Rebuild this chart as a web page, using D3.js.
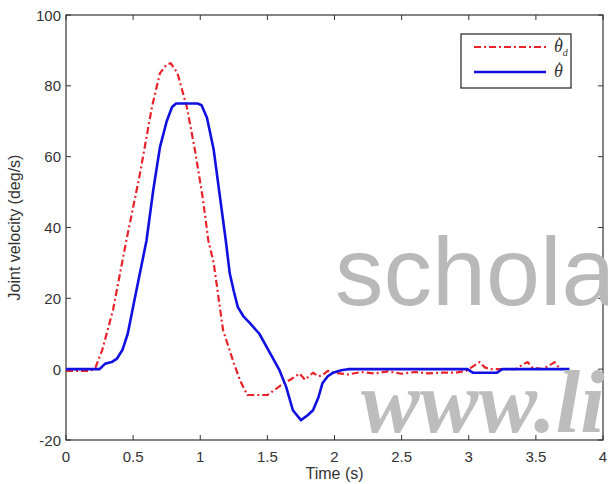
<!DOCTYPE html>
<html>
<head>
<meta charset="utf-8">
<script src="https://cdn.jsdelivr.net/npm/d3@7"></script>
<style>
  html, body { margin: 0; padding: 0; background: #fff; }
  svg { display: block; }
  text { fill: #333; }
</style>
</head>
<body>
<svg id="chart" width="608" height="484"></svg>
<script>
// ---- data ----
const xTicks = [0, 0.5, 1, 1.5, 2, 2.5, 3, 3.5, 4];
const xTickLabels = ["0", "0.5", "1", "1.5", "2", "2.5", "3", "3.5", "4"];
const yTicks = [-20, 0, 20, 40, 60, 80, 100];
const yTickLabels = ["-20", "0", "20", "40", "60", "80", "100"];

// desired joint velocity (red dash-dot)
const desiredTime = [0, 0.18, 0.22, 0.27, 0.35, 0.45, 0.55, 0.64, 0.70, 0.75, 0.78, 0.83, 0.90, 0.96, 1.02, 1.06, 1.10, 1.17, 1.25, 1.30, 1.35, 1.50, 1.57, 1.62, 1.67, 1.71, 1.74, 1.78, 1.84, 1.88, 1.91, 1.95, 2.0, 2.1, 2.2, 2.3, 2.4, 2.5, 2.6, 2.7, 2.8, 2.9, 2.98, 3.04, 3.08, 3.12, 3.16, 3.25, 3.35, 3.41, 3.44, 3.47, 3.55, 3.62, 3.64, 3.67];
const desiredVel = [-0.5, -0.5, 0.5, 5.4, 16.7, 36.4, 55, 74, 83.6, 86, 86.4, 83.6, 74, 62, 48, 36.4, 30, 11, 1.7, -3.5, -7.3, -7.3, -5.4, -4, -3, -2, -1.2, -3, -1, -2, -1.7, -0.5, -1, -1.5, -0.8, -1.2, -0.6, -1.3, -0.8, -1.2, -1, -1, -0.5, 1, 2, 0.5, 0, 0, 0, 1.5, 2, 0.5, 0, 1.5, 2, 0.5];

// actual joint velocity (blue solid)
const actualTime = [0, 0.25, 0.29, 0.34, 0.38, 0.42, 0.46, 0.51, 0.55, 0.60, 0.65, 0.70, 0.75, 0.79, 0.82, 0.98, 1.01, 1.05, 1.10, 1.14, 1.19, 1.22, 1.25, 1.28, 1.32, 1.37, 1.44, 1.52, 1.59, 1.64, 1.69, 1.75, 1.80, 1.84, 1.88, 1.91, 1.95, 1.99, 2.05, 2.1, 2.99, 3.03, 3.21, 3.25, 3.75];
const actualVel = [0, 0, 1.5, 2, 3, 5.4, 10, 19.5, 27, 36.4, 50.6, 62.7, 70, 74, 75, 75, 74.5, 71, 62, 50.6, 36.4, 27, 22, 17.5, 15, 13, 10, 4.5, -0.3, -5, -11.6, -14.4, -13, -11.6, -8, -4, -2, -1, -0.3, 0, 0, -1, -1, 0, 0];

const xLabel = "Time (s)";
const yLabel = "Joint velocity (deg/s)";

// ---- drawing ----
const SANS = '"Liberation Sans", Arial, sans-serif';
const SERIF = '"Liberation Serif", "Times New Roman", serif';
const svg = d3.select("#chart");
const pL = 66, pR = 603, pT = 15, pB = 440;
const x = d3.scaleLinear().domain([0, 4]).range([pL, pR]);
const y = d3.scaleLinear().domain([-20, 100]).range([pB, pT]);
const axisColor = "#333";

// frame
svg.append("rect").attr("x", pL).attr("y", pT)
  .attr("width", pR - pL).attr("height", pB - pT)
  .attr("fill", "none").attr("stroke", axisColor).attr("stroke-width", 1.2);

// ticks (inward, all four sides)
const tl = 5;
xTicks.forEach(t => {
  svg.append("line").attr("x1", x(t)).attr("x2", x(t)).attr("y1", pB).attr("y2", pB - tl).attr("stroke", axisColor);
  svg.append("line").attr("x1", x(t)).attr("x2", x(t)).attr("y1", pT).attr("y2", pT + tl).attr("stroke", axisColor);
});
yTicks.forEach(v => {
  svg.append("line").attr("x1", pL).attr("x2", pL + tl).attr("y1", y(v)).attr("y2", y(v)).attr("stroke", axisColor);
  svg.append("line").attr("x1", pR).attr("x2", pR - tl).attr("y1", y(v)).attr("y2", y(v)).attr("stroke", axisColor);
});

// tick labels
svg.selectAll(".xtl").data(xTicks).enter().append("text")
  .attr("x", d => x(d)).attr("y", 462).attr("text-anchor", "middle")
  .style("font-family", SANS).style("font-size", "15px").text((d, i) => xTickLabels[i]);
svg.selectAll(".ytl").data(yTicks).enter().append("text")
  .attr("x", 61).attr("y", d => y(d) + 5.5).attr("text-anchor", "end")
  .style("font-family", SANS).style("font-size", "15px").text((d, i) => yTickLabels[i]);

// axis labels
svg.append("text").attr("x", (pL + pR) / 2).attr("y", 479).attr("text-anchor", "middle")
  .style("font-family", SANS).style("font-size", "16px").text(xLabel);
svg.append("text").attr("transform", `translate(20,${(pT + pB) / 2}) rotate(-90)`)
  .attr("text-anchor", "middle").style("font-family", SANS).style("font-size", "16px").text(yLabel);

// curves
const line = d3.line().x(d => x(d[0])).y(d => y(d[1]));
const desired = desiredTime.map((t, i) => [t, desiredVel[i]]);
const actual = actualTime.map((t, i) => [t, actualVel[i]]);

const redColor = "#e8222a", blueColor = "#1010e0";
svg.append("path").datum(desired).attr("d", line)
  .attr("fill", "none").attr("stroke", redColor).attr("stroke-width", 2.2)
  .attr("stroke-dasharray", "7,3,2,3").attr("stroke-linejoin", "round");
svg.append("path").datum(actual).attr("d", line)
  .attr("fill", "none").attr("stroke", blueColor).attr("stroke-width", 2.6)
  .attr("stroke-linejoin", "round");

// legend
const lg = svg.append("g");
lg.append("rect").attr("x", 461).attr("y", 34).attr("width", 110).attr("height", 54)
  .attr("fill", "#fff").attr("stroke", "#222").attr("stroke-width", 1.2);
lg.append("line").attr("x1", 474).attr("x2", 546).attr("y1", 47).attr("y2", 47)
  .attr("stroke", redColor).attr("stroke-width", 2.2).attr("stroke-dasharray", "7,3,2,3");
lg.append("line").attr("x1", 474).attr("x2", 546).attr("y1", 72).attr("y2", 72)
  .attr("stroke", blueColor).attr("stroke-width", 2.6);

function thetaDot(xp, yb, sub) {
  const t = lg.append("text").attr("x", xp).attr("y", yb)
    .style("font-family", SERIF).style("font-style", "italic").style("font-size", "18px");
  t.append("tspan").text("\u03B8");
  if (sub) t.append("tspan").attr("dy", 4).style("font-size", "10px").text(sub);
  lg.append("text").attr("x", xp + 5.5).attr("y", yb - 4).attr("text-anchor", "middle")
    .style("font-family", SERIF).style("font-size", "16px").text("\u02D9");
}
thetaDot(554, 52, "d");
thetaDot(554, 77, null);

// watermark
svg.append("text").attr("x", 335).attr("y", 305)
  .style("font-family", SANS).style("font-size", "97px")
  .style("fill", "#b9b9b9").text("schola");
svg.append("text").attr("x", 361).attr("y", 432)
  .style("font-family", SERIF).style("font-style", "italic").style("font-weight", "bold")
  .style("font-size", "88px").style("fill", "#bdbdbd").text("www.li");
</script>
</body>
</html>
